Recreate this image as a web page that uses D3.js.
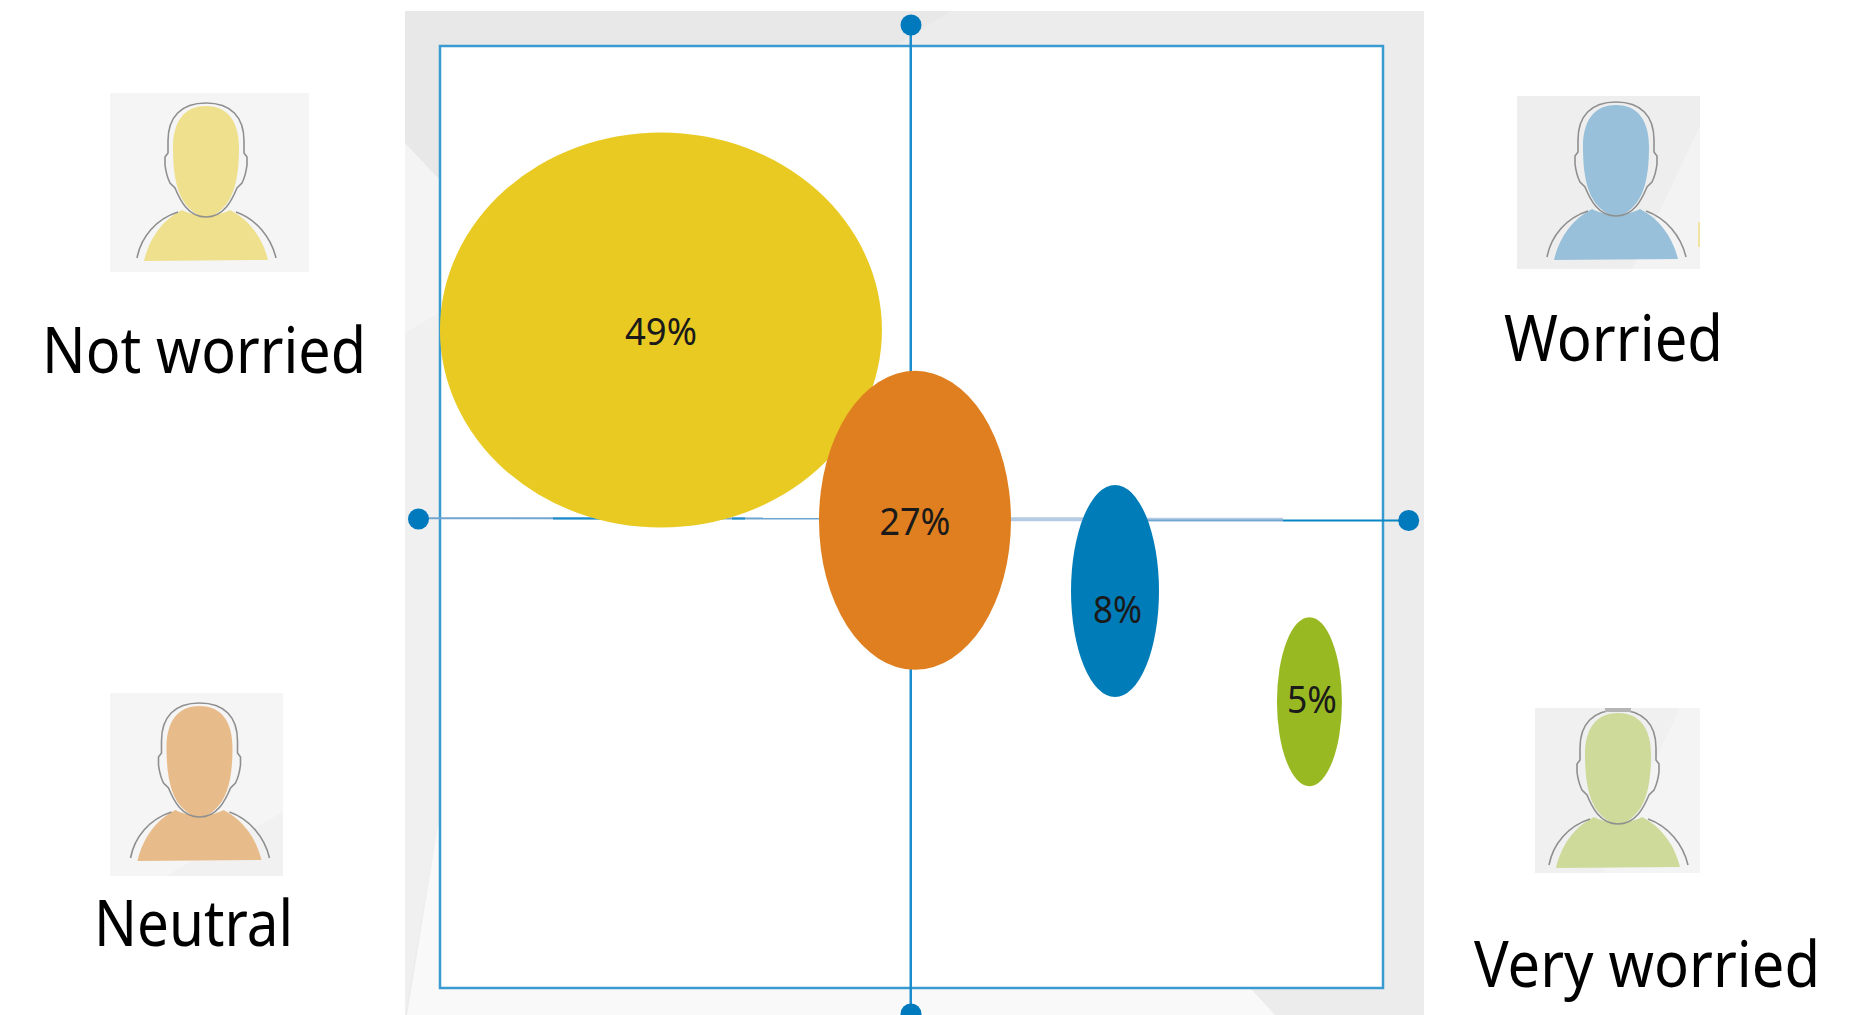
<!DOCTYPE html>
<html>
<head>
<meta charset="utf-8">
<title>Worry levels</title>
<script src="https://d3js.org/d3.v7.min.js"></script>
<style>
  html, body { margin: 0; padding: 0; background: #fff; }
  svg { display: block; }
  text { font-family: "Noto Sans", sans-serif; }
</style>
</head>
<body>
<div id="chart"></div>
<script>
// values
var categories = ["Not worried", "Neutral", "Worried", "Very worried"];
var shares = [49, 27, 8, 5];
var shareLabels = ["49%", "27%", "8%", "5%"];
// bubble centres, in percent of the plot square
var bubbleX = [23.43, 50.37, 71.58, 92.2];
var bubbleY = [69.85, 49.65, 42.14, 30.4];
var labelX = [23.43, 50.37, 71.85, 92.47];
var labelY = [68.26, 48.1, 38.75, 29.2];
var bubbleColors = ["#e9ca23", "#df7f1f", "#007cb8", "#99b923"];
var legendColors = ["#efe08e", "#e8bc8a", "#98c0da", "#cdda9a"];
var legendBack = ["#f5f5f5", "#f5f5f5", "#eeeeee", "#f0f0f0"];

var width = 1876, height = 1015;
var plot = {left: 440, right: 1383, top: 46, bottom: 988};

var x = d3.scaleLinear().domain([0, 100]).range([plot.left, plot.right]);
var y = d3.scaleLinear().domain([0, 100]).range([plot.bottom, plot.top]);
// the bubbles are stretched ellipses, each radius has its own scale
var rx = d3.scaleLinear().domain([5, 8, 27, 49]).range([32.5, 44, 96, 221]);
var ry = d3.scaleLinear().domain([5, 8, 27, 49]).range([84.5, 106, 149.5, 197.5]);

var svg = d3.select("#chart").append("svg")
  .attr("width", width)
  .attr("height", height);

// grey slide background behind the plot
var backdrop = svg.append("g");
backdrop.append("rect").attr("x", 405).attr("y", 11).attr("width", 1019).attr("height", 1004).attr("fill", "#ececec");
var panes = [
  {fill: "#e8e8e8", pts: [[405,11],[951,11],[895,46],[440,46],[440,180],[405,143]]},
  {fill: "#f4f4f4", pts: [[405,143],[440,180],[440,313],[405,333]]},
  {fill: "#f0f0f0", pts: [[405,333],[440,313],[440,813],[405,1015]]},
  {fill: "#f9f9f9", pts: [[440,813],[440,988],[1250,988],[1275,1015],[407,1015]]}
];
backdrop.selectAll("polygon").data(panes).enter().append("polygon")
  .attr("points", function(d) { return d.pts.join(" "); })
  .attr("fill", function(d) { return d.fill; });

// plot square
svg.append("rect")
  .attr("x", x(0)).attr("y", y(100))
  .attr("width", x(100) - x(0)).attr("height", y(0) - y(100))
  .attr("fill", "#fff").attr("stroke", "#3a9bd0").attr("stroke-width", 2.5);

// quadrant lines
var midX = x(49.92);
svg.append("line")
  .attr("x1", midX).attr("x2", midX).attr("y1", 25).attr("y2", 1014)
  .attr("stroke", "#1c8ccc").attr("stroke-width", 2.5);

var hLines = [
  {x1: 419, x2: 1000, y1: 518.3, y2: 518.6, color: "#6fa5cf", w: 2},
  {x1: 553, x2: 600, y1: 518.4, y2: 518.4, color: "#1c8ccc", w: 2},
  {x1: 732, x2: 745, y1: 518.5, y2: 518.5, color: "#1c8ccc", w: 2},
  {x1: 1000, x2: 1110, y1: 519.3, y2: 519.3, color: "#b3cbe3", w: 4},
  {x1: 1110, x2: 1283, y1: 519.8, y2: 519.8, color: "#b3cbe3", w: 4},
  {x1: 1110, x2: 1283, y1: 520.3, y2: 520.3, color: "#6fa5cf", w: 1.5},
  {x1: 1283, x2: 1408, y1: 520.5, y2: 520.5, color: "#0a85c4", w: 2}
];
svg.selectAll(".hline").data(hLines).enter().append("line")
  .attr("class", "hline")
  .attr("x1", function(d) { return d.x1; })
  .attr("x2", function(d) { return d.x2; })
  .attr("y1", function(d) { return d.y1; })
  .attr("y2", function(d) { return d.y2; })
  .attr("stroke", function(d) { return d.color; })
  .attr("stroke-width", function(d) { return d.w; });

// drag handles at the line ends
var handles = [[911, 25], [911, 1014], [418.5, 519], [1408.7, 520.5]];
svg.selectAll(".handle").data(handles).enter().append("circle")
  .attr("class", "handle")
  .attr("cx", function(d) { return d[0]; })
  .attr("cy", function(d) { return d[1]; })
  .attr("r", 10.5)
  .attr("fill", "#0079bd");

// bubbles
svg.selectAll(".bubble").data(shares).enter().append("ellipse")
  .attr("class", "bubble")
  .attr("cx", function(d, i) { return x(bubbleX[i]); })
  .attr("cy", function(d, i) { return y(bubbleY[i]); })
  .attr("rx", function(d) { return rx(d); })
  .attr("ry", function(d) { return ry(d); })
  .attr("fill", function(d, i) { return bubbleColors[i]; });

var shareWidths = [72, 71, 49, 50];
svg.selectAll(".share").data(shareLabels).enter().append("text")
  .attr("class", "share")
  .attr("x", function(d, i) { return x(labelX[i]); })
  .attr("y", function(d, i) { return y(labelY[i]); })
  .attr("text-anchor", "middle")
  .attr("font-size", 38)
  .attr("textLength", function(d, i) { return shareWidths[i]; })
  .attr("lengthAdjust", "spacingAndGlyphs")
  .attr("fill", "#1a1a1a")
  .text(function(d) { return d; });

// person icons, one per category
var headFill = "M0,3 C23,3 33,20 33,45 C33,75 28,95 16,106 C10,112 5,114 0,114 C-5,114 -10,112 -16,106 C-28,95 -33,75 -33,45 C-33,20 -23,3 0,3 Z";
var bodyFill = "M-62,158 C-57,136 -44,117 -24,107 C-12,114 12,114 24,107 C44,117 57,136 62,157 Z";
var headLine = "M0,0 C25,0 38,14 38,38 L38,50 L41,54 L41,62 C40,70 38,76 36,80 L31,85 C26,97 18,114 0,114 C-18,114 -26,97 -31,85 L-36,80 C-38,76 -40,70 -41,62 L-41,54 L-38,50 L-38,38 C-38,14 -25,0 0,0 Z";
var armLine = "M-69,155 C-65,134 -50,116 -28,109 M30,109 C50,116 65,134 70,155";

var icons = [
  {box: [110, 93, 199, 179], cx: 206, top: 103, text: [42, 373], width: 324, glare: null},
  {box: [110, 693, 173, 183], cx: 199.5, top: 703, text: [94, 946], width: 199, glare: {fill: "#f1f1f1", pts: [[283,812],[283,876],[165,876]]}},
  {box: [1517, 96, 183, 173], cx: 1616, top: 102, text: [1504, 361], width: 219, glare: {fill: "#f3f3f3", pts: [[1700,126],[1700,269],[1632,269]]}},
  {box: [1535, 708, 165, 165], cx: 1618, top: 710, text: [1474, 987], width: 346, glare: {fill: "#f4f4f4", pts: [[1680,708],[1700,708],[1700,873],[1602,873]]}}
];

var icon = svg.selectAll(".icon").data(icons).enter().append("g").attr("class", "icon");
icon.append("rect")
  .attr("x", function(d) { return d.box[0]; })
  .attr("y", function(d) { return d.box[1]; })
  .attr("width", function(d) { return d.box[2]; })
  .attr("height", function(d) { return d.box[3]; })
  .attr("fill", function(d, i) { return legendBack[i]; });
icon.filter(function(d) { return d.glare; }).append("polygon")
  .attr("points", function(d) { return d.glare.pts.join(" "); })
  .attr("fill", function(d) { return d.glare.fill; });

var person = icon.append("g")
  .attr("transform", function(d) { return "translate(" + d.cx + "," + d.top + ")"; });
person.append("path").attr("d", bodyFill).attr("fill", function(d, i) { return legendColors[i]; });
person.append("path").attr("d", headFill).attr("fill", function(d, i) { return legendColors[i]; });
person.append("path").attr("d", headLine).attr("fill", "none").attr("stroke", "#8f8f8f").attr("stroke-width", 1.6);
person.append("path").attr("d", armLine).attr("fill", "none").attr("stroke", "#8f8f8f").attr("stroke-width", 1.6);

// leftovers of the slide showing through the icons
svg.append("rect").attr("x", 1698).attr("y", 222).attr("width", 2).attr("height", 25).attr("fill", "#f3e3a0");
svg.append("rect").attr("x", 1605).attr("y", 708).attr("width", 26).attr("height", 4).attr("fill", "#b5b5b5");

icon.append("text")
  .attr("x", function(d) { return d.text[0]; })
  .attr("y", function(d) { return d.text[1]; })
  .attr("font-size", 63)
  .attr("textLength", function(d) { return d.width; })
  .attr("lengthAdjust", "spacingAndGlyphs")
  .attr("fill", "#000")
  .text(function(d, i) { return categories[i]; });
</script>
</body>
</html>
